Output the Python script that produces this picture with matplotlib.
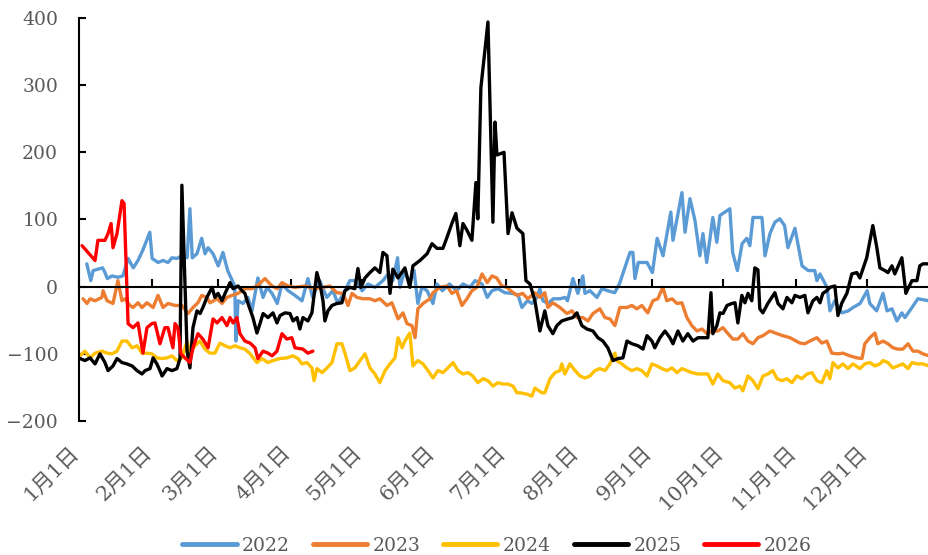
import matplotlib
matplotlib.use("Agg")
import matplotlib.pyplot as plt
import matplotlib.transforms as mtransforms

# ---------------- data (day of year, value) ----------------
d2022 = [3.3, 5, 6, 10, 11, 12, 14, 16.5, 18.6, 20.8, 23, 25, 27, 30, 31, 33.5, 35.6, 37.7, 39.4, 41.5, 43.6, 45.8, 47, 48,
         50, 52, 53.4, 54.7, 56.8, 59, 61, 63, 66, 66.5, 67.4, 69.5, 71.6, 73.3, 75.8, 78, 79.7, 81.8, 84, 86, 88.6, 91.5,
         94.5, 97, 99, 102, 105, 107.6, 109.7, 112.7, 114.8, 117, 120, 122.5, 125.4, 128.8, 131, 133, 135, 136, 138, 140,
         142, 143.6, 145.3, 147.5, 150, 151.7, 154, 157, 160, 162.7, 165.7, 167.8, 170.8, 173, 175, 177.5, 180.5, 183.5,
         186, 187.7, 190, 192, 194, 195.3, 196.6, 198.7, 201, 203.8, 206, 207, 209.3, 211.4, 213.5, 214.4, 216.5, 219.5,
         221.6, 224, 227, 229, 231.3, 233.5, 234.7, 235.6, 237, 240.7, 243, 245, 247.5, 250.8, 251.7, 255.5, 256.8, 258.9,
         261, 263.1, 264.4, 266, 268.6, 270.3, 271.6, 275.8, 277, 279, 281, 283, 284.3, 285.6, 289.4, 290.7, 292.8, 294.9,
         297, 299, 300.4, 303.4, 306.4, 309, 311.8, 312.7, 314, 317, 318.2, 320.3, 323.3, 326, 328, 331, 334, 335.1, 338,
         340.7, 342.4, 344.5, 346.6, 348.7, 350, 353, 355.5, 360.2]
v2022 = [34, 9, 24, 28, 21, 12, 16, 14, 16, 42, 28, 39, 54, 81, 42, 36, 39, 36, 43, 42, 46, 43, 116, 43,
         49, 72, 49, 58, 49, 31, 51, 24, 1, -81, -21, -25, -16, -36, 13, -16, -1, -10, -25, 4, -6, -13,
         -21, 12, -16, 9, -16, -6, -25, -6, 9, 9, -6, 4, -1, 9, 19, 9, 43, -1, 24, 4,
         24, -25, -1, -6, -25, 4, -6, 4, -6, 4, -1, 9, 4, -16, -6, -3, -9, -10,
         -12, -31, -21, -25, -16, -3, -21, -25, -18, -18, -16, -21, 12, -10, 16, -10, -6, -16,
         -3, -6, -9, 4, 28, 51, 51, 12, 36, 36, 21, 72, 46, 111, 69, 140, 81, 131,
         99, 46, 79, 36, 103, 66, 106, 116, 51, 24, 64, 72, 61, 103, 103, 46, 79, 96,
         101, 91, 58, 87, 31, 24, 24, 9, 19, -1, -36, -21, -39, -36, -31, -25, -6, -25, -36,
         -10, -36, -33, -51, -39, -46, -31, -18, -21]

d2023 = [1.7, 3.4, 4.7, 6.8, 9.7, 10.2, 11.9, 14.4, 16.5, 18.2, 19.5, 21.6, 22.9, 25, 26.7, 28.8, 31.4, 33.5, 35.6, 37.7,
         40.7, 43.6, 46.2, 48.3, 50.4, 52, 54.2, 55.5, 58.5, 60.6, 62.7, 64.8, 67.4, 70.3, 73.3, 75.4, 78.8, 81.8, 84, 86,
         88.6, 91.5, 95.8, 100, 103.4, 106.3, 109.3, 111.9, 114, 115.7, 117.8, 120.3, 123.3, 125.4, 127.5, 130.5, 132.6,
         135.2, 137.3, 139, 141.1, 142.4, 143.6, 145.8, 148.7, 150, 153, 156, 158, 160, 162.3, 164.4, 166.5, 168.6, 170.8,
         173, 175, 177, 179.2, 181.3, 184, 185.6, 188, 190.2, 193.2, 195.3, 197.4, 198.7, 200.8, 203.8, 206.8, 208.9, 211,
         213.5, 215.7, 217.8, 220.7, 222.9, 225, 227.1, 229.2, 232.2, 234.3, 236.4, 238.5, 241, 243.2, 245.3, 247.4, 249.1,
         251.3, 253.4, 255.5, 257.6, 259.7, 261.9, 264, 266.1, 268.2, 270.7, 272.9, 275, 277.1, 279.2, 281.3, 283.5, 285.6,
         287.7, 289.8, 292.8, 295.8, 298.3, 301.3, 305.5, 307.6, 309.7, 312.7, 314.8, 316.9, 319, 321.6, 323.7, 326.7,
         329.6, 331.8, 333, 335.1, 337.3, 338.5, 340.7, 342.8, 344.9, 347, 349.1, 351.3, 353.4, 355.5, 357.6, 360.2]
v2023 = [-18, -25, -18, -21, -16, -6, -21, -25, 9, -21, -18, -28, -31, -24, -31, -24, -31, -13, -31, -25,
         -28, -28, -40, -31, -24, -13, -16, -24, -18, -25, -16, -13, -10, -3, -3, 1, 12, 1, -3, 6,
         1, -1, 1, -3, -1, 1, -9, -10, -28, -10, -16, -18, -18, -21, -18, -28, -24,
         -48, -39, -55, -58, -76, -33, -25, -18, -9, -1, 1, -10, -6, -28, -18, -6, -1, 19,
         6, 16, 13, 1, -1, -9, -13, -10, -18, -9, -16, -9, -31, -24, -31, -40, -36, -46,
         -46, -51, -40, -33, -46, -48, -58, -31, -31, -28, -33, -28, -39, -21, -18, -1, -21,
         -18, -25, -24, -46, -58, -66, -63, -70, -66, -66, -61, -70, -78, -78, -70, -81, -85,
         -76, -73, -66, -70, -73, -76, -84, -85, -81, -76, -84, -81, -99, -100, -99, -103,
         -106, -107, -85, -76, -69, -85, -81, -85, -91, -93, -93, -85, -96, -96, -100, -103]

d2024 = [0.4, 2.5, 4.7, 6.8, 9.7, 11.9, 14, 16.1, 18.2, 20.3, 22.5, 24.6, 26.7, 28.8, 30.9, 33, 35.2, 37.3, 39.4, 41.5,
         43.6, 45.8, 47, 49.1, 51.3, 53.4, 55.5, 57.6, 59.7, 61.9, 64, 66.1, 68.2, 70.3, 72.5, 75.4, 77.5, 80.1, 82.2,
         85.2, 88.1, 90.7, 92.8, 94.5, 96.6, 98.7, 99.6, 100.8, 103, 105.1, 107.2, 109.3, 111.4, 112.7, 114.8, 116.9,
         119.1, 121.2, 123.3, 125.4, 127.5, 129.7, 131.8, 133.9, 135.2, 136.9, 138.1, 140.2, 141.5, 143.6, 145.8, 147.9,
         150, 152.1, 154.2, 156.3, 158.5, 160.6, 162.7, 164.8, 166.9, 169, 171.2, 173.3, 175.4, 177.5, 179.6, 181.8,
         183.9, 185.6, 186.9, 189.8, 191.9, 193.2, 196.2, 197.4, 199.6, 201.7, 203.8, 204.6, 205.9, 208, 210.2, 212.3,
         214.4, 216.5, 218.6, 220.7, 222.9, 225, 227.1, 227.9, 230, 232.2, 234.3, 236.4, 238.5, 240.7, 242.8, 244.9, 247,
         249.1, 251.3, 253.4, 255.5, 257.6, 259.7, 262.3, 264.4, 266.5, 268.6, 270.7, 272.9, 275.8, 277.9, 280.1, 281.3,
         283.5, 285.6, 287.7, 289.8, 291.9, 294, 295.8, 297.9, 300, 302.1, 304.2, 306.3, 308.5, 310.6, 312.7, 314.8,
         316.9, 318.2, 319.5, 321.6, 323.7, 325.8, 328, 330.9, 333, 335.1, 337.3, 339.4, 340.7, 342.8, 344.9, 347, 349.1,
         351.3, 353, 355.1, 357.6, 360.2]
v2024 = [-103, -96, -106, -99, -96, -99, -100, -96, -81, -81, -91, -88, -99, -99, -100, -106, -107, -106, -103, -110,
         -106, -81, -99, -88, -81, -93, -99, -99, -84, -88, -91, -88, -91, -93, -100, -113, -107, -113, -110,
         -107, -106, -103, -107, -115, -113, -121, -140, -122, -128, -121, -113, -85, -85, -99, -125, -121,
         -110, -100, -121, -130, -143, -125, -115, -106, -76, -91, -81, -69, -118, -110, -115, -125,
         -136, -125, -128, -121, -113, -125, -130, -128, -133, -143, -137, -140, -148, -143, -145, -145,
         -148, -158, -158, -160, -163, -151, -158, -158, -137, -128, -125, -115, -130, -115, -125, -133,
         -136, -133, -125, -122, -125, -115, -99, -110, -115, -121, -125, -122, -125, -133, -115, -118, -122,
         -125, -121, -128, -122, -125, -128, -130, -130, -130, -145, -130, -140, -143, -151, -148, -155,
         -133, -140, -152, -133, -130, -125, -137, -140, -137, -143, -133, -137, -130, -128, -140, -143,
         -125, -137, -113, -121, -115, -122, -115, -122, -115, -113, -118, -115, -110, -113, -121, -118, -115,
         -122, -113, -115, -115, -118]

d2025 = [0.4, 2.5, 4.7, 6.8, 8.9, 11, 12.3, 14.4, 16.1, 18.2, 20.3, 22.5, 24.6, 26.7, 28, 30.1, 31.4, 33, 34.3, 35.2,
         37.3, 39.4, 41.5, 42.8, 43.6, 45.8, 47, 48.3, 50, 51.3, 52.5, 54.2, 56.4, 57.6, 58.9, 60.6, 61.9, 64, 65.3,
         67.4, 69.1, 70.3, 71.6, 73.7, 75.4, 76.7, 78, 80.1, 82.2, 83.9, 85.2, 87.3, 89.4, 90.7, 92.4, 93.6, 94.9, 97,
         98.7, 100.8, 102.1, 103.4, 104.2, 105.5, 107.2, 109.3, 111.4, 112.7, 114.8, 116.9, 118.2, 119.5, 121.2, 123.3,
         125.4, 127.5, 128.8, 130.5, 131.8, 133, 135.2, 138.1, 140.2, 141.5, 144.5, 147.5, 149.6, 151.7, 154.2, 155.9,
         158, 159.7, 161.4, 162.7, 164.4, 166.5, 168.2, 169, 170.3, 173.3, 175.4, 176.3, 177.1, 180.1, 181.8, 183.5,
         185.6, 188.1, 189.4, 191.1, 193.2, 195.3, 197.4, 198.7, 200.8, 202.5, 204.6, 207.2, 209.3, 211, 213.1, 215.2,
         217.8, 219.9, 222, 224.1, 226.3, 228.4, 230.5, 232.2, 234.3, 236.9, 239, 240.7, 242.8, 244, 246.2, 248.3, 250.4,
         251.7, 253.8, 255.9, 258, 260.2, 262.3, 264.4, 266.5, 267.8, 268.6, 270.3, 271.6, 272.9, 274.6, 276.7, 278,
         279.2, 280.9, 282.2, 283.5, 285.1, 286.4, 287.7, 288.5, 289.8, 291.9, 294.9, 296.2, 298.3, 300, 302.1, 303.4,
         305.5, 307.6, 308.9, 311, 312.7, 314, 315.2, 316.9, 318.2, 320.3, 321.6, 323.3, 325.4, 327.5, 329.6, 330.9,
         333.8, 336.4, 338.1, 339.4, 341.5, 342.8, 344.5, 345.7, 348.7, 350.4, 351.3, 353, 355.1, 356.3, 357.6, 360.2]
v2025 = [-107, -110, -106, -115, -100, -113, -125, -118, -107, -113, -115, -118, -125, -130, -125, -122, -106, -115, -125, -133,
         -122, -125, -122, -107, 151, -96, -121, -61, -36, -40, -31, -16, -1, -16, -10, -21, -10, 6, -3,
         1, -6, -10, -25, -46, -69, -55, -40, -46, -39, -54, -43, -39, -40, -51, -46, -63, -46, -51,
         -39, 21, 4, -21, -51, -36, -28, -25, -24, -6, -1, -3, 27, -1, 13, 21,
         28, 21, 51, 46, -10, 26, 13, 28, -1, 31, 39, 49, 64, 57, 57, 73,
         94, 109, 61, 94, 84, 69, 155, 101, 296, 394, 96, 245, 196, 200, 79, 110,
         87, 79, 9, 4, -21, -66, -36, -58, -70, -58, -51, -48, -46, -39, -58, -63,
         -66, -76, -81, -91, -110, -107, -106, -81, -85, -88, -93, -73, -81, -91, -76, -66, -76,
         -85, -66, -81, -70, -81, -76, -76, -76, -9, -70, -58, -39, -40, -28, -25, -24,
         -54, -13, -24, -10, -21, 28, 25, -33, -39, -25, -9, -25, -33, -16, -24, -13,
         -16, -13, -39, -21, -16, -24, -10, -6, -1, 1, -43, -24, -10, 19, 21, 13,
         43, 91, 58, 28, 24, 21, 31, 19, 43, -10, -3, 9, 9, 31, 34, 34]

d2026 = [1.3, 3.8, 6.8, 8, 11, 12.3, 13.6, 14.4, 16.1, 18.2, 19.1, 20.8, 22.9, 25, 27.1, 28.8, 30.9, 32.2, 34.3, 36.4,
         37.7, 39.8, 40.7, 41.9, 43.2, 44.9, 47, 48.3, 50.4, 52.5, 54.7, 56.8, 58.5, 60.6, 62.7, 64, 65.3, 66.9, 68.2,
         70.3, 72.5, 74.6, 75.8, 78, 80.1, 81.8, 83.9, 86, 88.1, 90.2, 91.5, 94.9, 97, 99.1]
v2026 = [61, 51, 39, 69, 69, 79, 94, 58, 79, 128, 124, -55, -61, -54, -99, -61, -55, -54, -85, -61,
         -61, -91, -55, -61, -100, -106, -113, -91, -70, -78, -91, -48, -54, -46, -58, -46, -54, -46, -70,
         -81, -84, -91, -107, -96, -99, -103, -96, -70, -78, -76, -91, -93, -99, -96]

series_names = ["2022", "2023", "2024", "2025", "2026"]
series_x = [d2022, d2023, d2024, d2025, d2026]
series_y = [v2022, v2023, v2024, v2025, v2026]
colors = ["#5B9BD5", "#ED7D31", "#FFC000", "#000000", "#FF0000"]

month_days = [0, 31, 59, 90, 120, 151, 181, 212, 243, 273, 304, 334]
month_labels = ["1月1日", "2月1日", "3月1日", "4月1日", "5月1日", "6月1日",
                "7月1日", "8月1日", "9月1日", "10月1日", "11月1日", "12月1日"]
y_ticks = [-200, -100, 0, 100, 200, 300, 400]

# ---------------- plot ----------------
plt.rcParams['font.family'] = ['DejaVu Serif', 'Noto Sans CJK SC']
text_color = "#595959"

fig = plt.figure(figsize=(9.29, 5.55), dpi=100)
ax = fig.add_axes([79 / 929, 1 - 421 / 555, 850 / 929, 403 / 555])

for x, y, c, n in zip(series_x, series_y, colors, series_names):
    ax.plot(x, y, color=c, lw=2.4, label=n, solid_joinstyle='round', solid_capstyle='round')

ax.set_xlim(0, 360.2)
ax.set_ylim(-200, 400)
ax.set_yticks(y_ticks)
ax.set_yticklabels([str(t).replace('-', '\u2212') for t in y_ticks], color=text_color, fontsize=13.5)

for s in ['top', 'right']:
    ax.spines[s].set_visible(False)
ax.spines['left'].set_linewidth(1.5)
ax.spines['bottom'].set_position(('data', 0))
ax.spines['bottom'].set_linewidth(1.5)
ax.tick_params(axis='y', direction='in', length=5, width=1.5, pad=15)
ax.set_xticks(month_days)
ax.tick_params(axis='x', direction='in', length=6, width=1.5, labelbottom=False)

trans = mtransforms.blended_transform_factory(ax.transData, ax.transAxes)
for d, lab in zip(month_days, month_labels):
    ax.text(d + 1.3, -0.053, lab, transform=trans, rotation=45, ha='right', va='top',
            fontsize=15, color=text_color)

leg = fig.legend(loc='lower center', bbox_to_anchor=(0.535, -0.03), ncol=5, frameon=False,
                 fontsize=13.5, handlelength=2.9, handletextpad=0.3, columnspacing=1.2)
for t in leg.get_texts():
    t.set_color(text_color)
for h in leg.get_lines():
    h.set_linewidth(3.5)

fig.savefig("out.png", dpi=100)
